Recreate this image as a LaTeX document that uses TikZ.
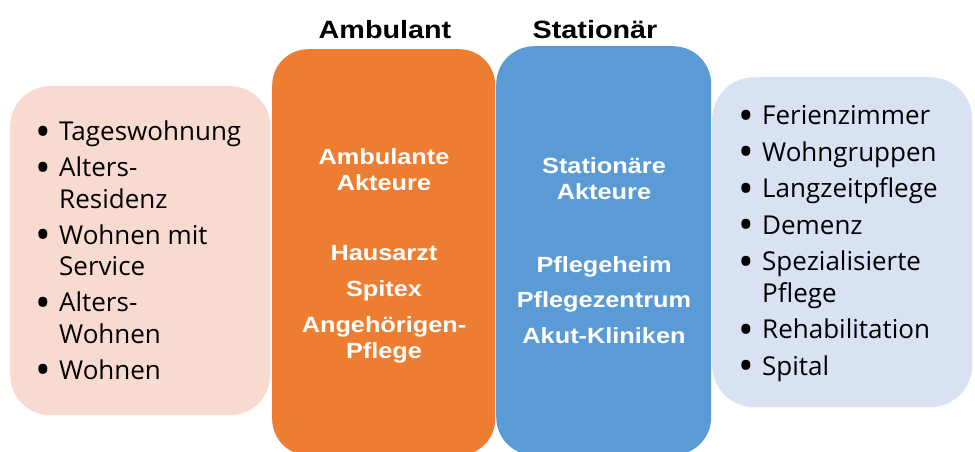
\documentclass[tikz,border=0pt]{standalone}
\usepackage{fontspec}
\setmainfont{Open Sans}
\newfontfamily\headfont{Liberation Sans}[FakeStretch=1.15]
\usetikzlibrary{positioning}
\definecolor{Orange}{HTML}{ED7D31}
\definecolor{Blue}{HTML}{5B9BD5}
\definecolor{SoftRose}{HTML}{F9DAD0}
\definecolor{SoftBlue}{HTML}{D9E2F3}
\newcommand{\bitem}{\makebox[24pt][l]{\smash{\raisebox{-0.22em}{\scalebox{1.6}{\textbullet}}}}}
\newcommand{\bcont}{\hspace*{24pt}}

\begin{document}
\begin{tikzpicture}[
  x=1pt,y=-1pt,
  panel/.style={rounded corners=#1,draw=none,inner sep=0pt,anchor=north west},
  head/.style={font=\headfont\bfseries\fontsize{25}{30}\selectfont,text=black,inner sep=0pt,anchor=base},
  inner/.style={font=\headfont\bfseries\fontsize{22}{26}\selectfont,text=white,align=center,inner sep=0pt,anchor=base},
  items/.style={font=\fontsize{26}{31.5}\selectfont,text=black,align=left,inner sep=0pt,anchor=base west}
]
\clip (0,0) rectangle (975,451);
\node[panel=40pt,fill=SoftRose,minimum width=260pt,minimum height=329pt] (lft) at (10,86) {};
\node[panel=36pt,fill=Orange,minimum width=223pt,minimum height=406pt] (amb) at (272,49) {};
\node[panel=38pt,fill=Blue,minimum width=215pt,minimum height=409pt] (stat) at (496,46) {};
\node[panel=42pt,fill=SoftBlue,minimum width=260pt,minimum height=330pt] (rgt) at (712,77) {};
% headers
\node[head] (ambhead) at (385,38) {Ambulant};
\node[head] (stathead) at (595,38) {Stationär};
% inner texts (anchored at last baseline)
\node[inner] (ambtitle) at (384,190) {Ambulante\\Akteure};
\node[inner] (ambitems) at (384,358) {Hausarzt\\[10pt]Spitex\\[10pt]Angehörigen-\\Pflege};
\node[inner] (stattitle) at (604,199) {Stationäre\\Akteure};
\node[inner] (statitems) at (604,343) {Pflegeheim\\[9pt]Pflegezentrum\\[10pt]Akut-Kliniken};
% lists
\node[items] (lftlist) at (35,379) {\bitem Tageswohnung\\[4.5pt]
  \bitem Alters-\\ \bcont Residenz\\[4.5pt]
  \bitem Wohnen mit\\ \bcont Service\\[4.5pt]
  \bitem Alters-\\ \bcont Wohnen\\[4.5pt]
  \bitem Wohnen};
\node[items] (rgtlist) at (738,375) {\bitem Ferienzimmer\\[5pt]
  \bitem Wohngruppen\\[5pt]
  \bitem Langzeitpflege\\[5pt]
  \bitem Demenz\\[5pt]
  \bitem Spezialisierte\\ \bcont Pflege\\[5pt]
  \bitem Rehabilitation\\[5pt]
  \bitem Spital};
\end{tikzpicture}
\end{document}
